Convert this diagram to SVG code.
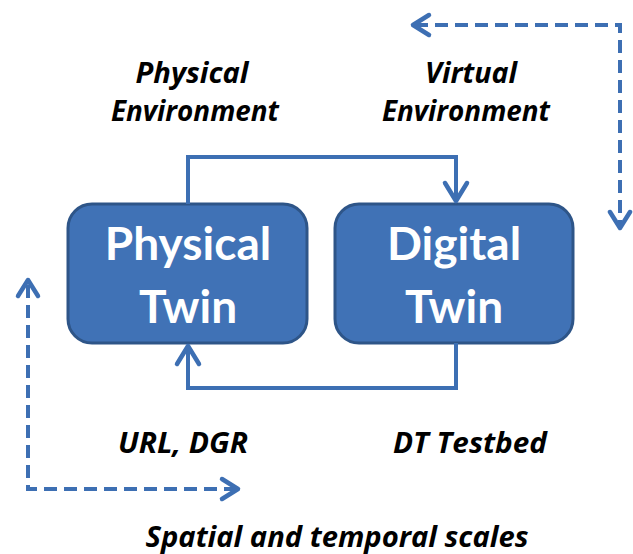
<svg xmlns="http://www.w3.org/2000/svg" width="633" height="554" viewBox="0 0 633 554">
<defs>
<style>
.box{fill:#4072b6;stroke:#2e5588;stroke-width:3}
.bt{font-family:Lato,"Open Sans",sans-serif;font-weight:bold;font-size:46px;fill:#fff;text-anchor:middle}
.lb{font-family:"Open Sans",Lato,sans-serif;font-weight:bold;font-style:italic;font-size:28px;fill:#000;text-anchor:middle}
.c{fill:none;stroke:#3d6fb3;stroke-width:4}
.d{fill:none;stroke:#3d6fb3;stroke-width:4;stroke-dasharray:13 7}
.ah{fill:none;stroke:#3d6fb3;stroke-width:4.5;stroke-linecap:round;stroke-linejoin:round}
</style>
</defs>
<rect width="633" height="554" fill="#fff"/>
<g id="physical-twin">
<rect class="box" x="68" y="204" width="239" height="139" rx="24"/>
<text class="bt" x="188" y="260">Physical</text>
<text class="bt" x="188" y="323">Twin</text>
</g>
<g id="digital-twin">
<rect class="box" x="335" y="204" width="238" height="139" rx="24"/>
<text class="bt" x="454" y="260">Digital</text>
<text class="bt" x="454" y="323">Twin</text>
</g>
<g id="connectors">
<path class="c" d="M188,204 V157 H456 V201"/>
<path class="ah" d="M445,183 L456,201 L467,183"/>
<path class="c" d="M456,343 V388 H188 V346"/>
<path class="ah" d="M177,364 L188,346 L199,364"/>
<path class="d" d="M415,25 H620 V226"/>
<path class="ah" d="M429,15 L413,25 L429,35"/>
<path class="ah" d="M610,212 L620,228 L630,212"/>
<path class="d" d="M28,285 V489 H234"/>
<path class="ah" d="M18,296 L28,280 L38,296"/>
<path class="ah" d="M222,479 L238,489 L222,499"/>
</g>
<g id="labels">
<text class="lb" x="192" y="83" textLength="113" lengthAdjust="spacingAndGlyphs">Physical</text>
<text class="lb" x="195" y="121" textLength="168" lengthAdjust="spacingAndGlyphs">Environment</text>
<text class="lb" x="471" y="83" textLength="92" lengthAdjust="spacingAndGlyphs">Virtual</text>
<text class="lb" x="466" y="121" textLength="168" lengthAdjust="spacingAndGlyphs">Environment</text>
<text class="lb" x="183" y="453" textLength="130" lengthAdjust="spacingAndGlyphs">URL, DGR</text>
<text class="lb" x="470" y="453" textLength="154" lengthAdjust="spacingAndGlyphs">DT Testbed</text>
<text class="lb" x="337" y="547" textLength="383" lengthAdjust="spacingAndGlyphs">Spatial and temporal scales</text>
</g>
</svg>
